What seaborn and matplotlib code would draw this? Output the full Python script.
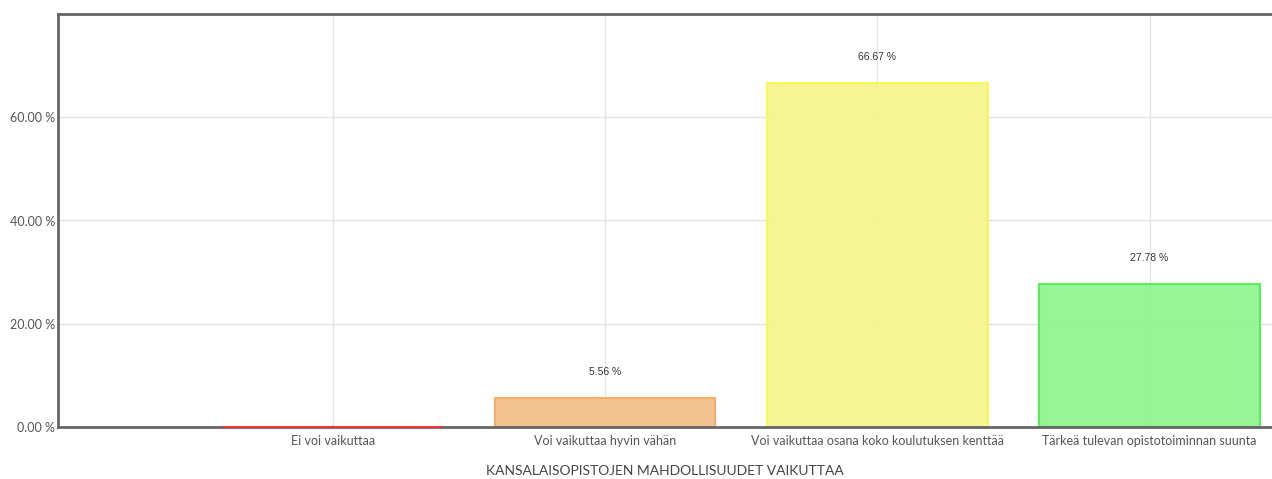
import matplotlib
matplotlib.use('Agg')
import matplotlib.pyplot as plt
import seaborn as sns
import pandas as pd

# ── Data ──────────────────────────────────────────────────────────────────────
categories = ['Ei voi vaikuttaa', 'Voi vaikuttaa hyvin vähän',
              'Voi vaikuttaa osana koko koulutuksen kenttää',
              'Tärkeä tulevan opistotoiminnan suunta']
values = [0.0, 5.56, 66.67, 27.78]
fill_colors = ['#FF7070', '#F5BE88', '#F5F58A', '#8EF58E']
edge_colors = ['#FF3030', '#F8A860', '#F8F850', '#50EE50']
y_ticks = [0, 20, 40, 60]
x_title = 'KANSALAISOPISTOJEN MAHDOLLISUUDET VAIKUTTAA'

df = pd.DataFrame({'cat': categories, 'val': values})

# ── Style ─────────────────────────────────────────────────────────────────────
sns.set_theme(style='white')
plt.rcParams['font.family'] = ['Lato', 'DejaVu Sans']

fig = plt.figure(figsize=(12.72, 4.79), dpi=100)
ax = fig.add_axes([58 / 1272, 52 / 479, 1 - 58 / 1272, (427 - 14) / 479])

sns.barplot(data=df, x='cat', y='val', hue='cat', palette=fill_colors,
            order=categories, hue_order=categories, legend=False, saturation=1,
            width=0.81, errorbar=None, ax=ax, zorder=2)
for p, ec, v in zip(ax.patches, edge_colors, values):
    p.set_edgecolor(ec)
    p.set_linewidth(1.5)
    p.set_alpha(0.92)
    p.set_clip_on(False)
    if v <= 0:
        # zero bar shows only as a thin red line at the baseline
        p.set_zorder(3)

# value labels
for p, v in zip(ax.patches, values):
    if v <= 0:
        continue
    ax.annotate(f'{v:.2f} %', (p.get_x() + p.get_width() / 2, p.get_height()),
                xytext=(0, 15), textcoords='offset points', ha='center', va='bottom',
                fontsize=7.5, color='#333333', family=['Liberation Sans', 'DejaVu Sans'])

ax.set_xlim(-1.01, 3.45)
ax.set_ylim(0, 80)
ax.set_yticks(y_ticks)
ax.set_yticklabels([f'{t:.2f} %' for t in y_ticks])
ax.tick_params(axis='y', labelsize=9, colors='#555555', length=0, pad=2)
ax.tick_params(axis='x', labelsize=9, colors='#555555', length=0, pad=6)
ax.set_xlabel(x_title, fontsize=10, color='#444444', labelpad=13)
ax.set_ylabel('')

ax.grid(True, color='#e4e4e4', linewidth=1, zorder=0)
ax.set_axisbelow(True)

for side in ['left', 'top', 'bottom']:
    ax.spines[side].set_color('#666666')
    ax.spines[side].set_linewidth(2)
ax.spines['right'].set_visible(False)

fig.savefig('out.png', dpi=100)
